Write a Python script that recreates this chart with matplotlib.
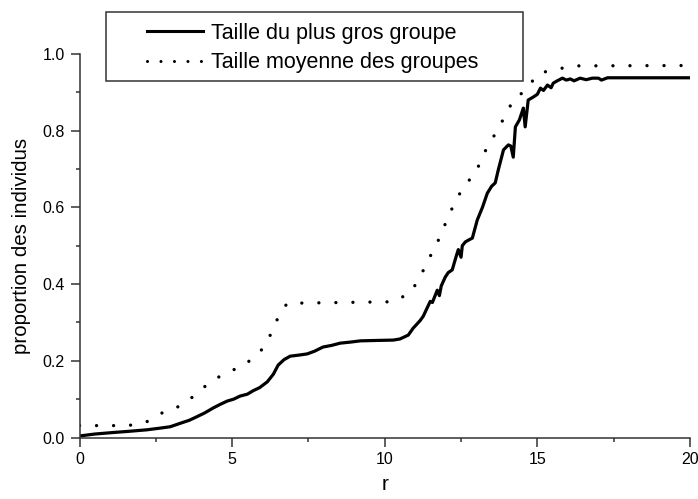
import numpy as np
import matplotlib
matplotlib.use("Agg")
import matplotlib.pyplot as plt
from matplotlib.lines import Line2D
from matplotlib.ticker import MultipleLocator, FormatStrFormatter

plt.rcParams['font.family'] = ['Liberation Sans', 'DejaVu Sans']

# taille du plus gros groupe
r_big = [0, 0.5, 1.1, 1.6, 2.2, 2.6, 2.97, 3.3, 3.6, 3.84, 4.1, 4.38, 4.6, 4.84,
         5.05, 5.26, 5.5, 5.69, 5.9, 6.15, 6.35, 6.51, 6.7, 6.9, 7.2, 7.46, 7.7,
         7.98, 8.25, 8.54, 8.9, 9.2, 9.7, 10.28, 10.5, 10.77, 10.93, 11.16, 11.26,
         11.49, 11.56, 11.72, 11.79, 11.85, 11.98, 12.08, 12.21, 12.35, 12.41,
         12.5, 12.54, 12.64, 12.75, 12.87, 13.03, 13.2, 13.36, 13.5, 13.62, 13.72,
         13.89, 14.05, 14.13, 14.21, 14.28, 14.41, 14.54, 14.6, 14.7, 14.87, 15.0,
         15.1, 15.2, 15.33, 15.45, 15.52, 15.65, 15.82, 15.95, 16.08, 16.2, 16.4,
         16.6, 16.8, 17.0, 17.1, 17.3, 18, 19, 20]
big = [0.004, 0.009, 0.013, 0.016, 0.02, 0.024, 0.028, 0.037, 0.045, 0.054, 0.064,
       0.077, 0.086, 0.095, 0.1, 0.108, 0.113, 0.122, 0.13, 0.145, 0.165, 0.189,
       0.203, 0.212, 0.215, 0.218, 0.225, 0.236, 0.24, 0.246, 0.249, 0.252, 0.253,
       0.254, 0.257, 0.267, 0.285, 0.305, 0.316, 0.355, 0.352, 0.384, 0.37, 0.395,
       0.418, 0.43, 0.437, 0.475, 0.49, 0.47, 0.5, 0.51, 0.515, 0.52, 0.567, 0.6,
       0.637, 0.655, 0.664, 0.698, 0.75, 0.763, 0.76, 0.731, 0.81, 0.828, 0.859,
       0.81, 0.88, 0.888, 0.895, 0.911, 0.905, 0.919, 0.912, 0.924, 0.93, 0.937,
       0.932, 0.935, 0.93, 0.937, 0.933, 0.937, 0.937, 0.932, 0.938, 0.938, 0.938,
       0.938]

# taille moyenne des groupes
r_mean = [0, 1.6, 2.2, 2.77, 3.33, 3.86, 4.3, 4.86, 5.4, 5.92, 6.25, 6.49, 6.8,
          10.3, 10.86, 11.19, 11.44, 11.71, 11.88, 12.1, 12.37, 12.64, 12.97,
          13.19, 13.46, 13.76, 14.0, 14.3, 14.55, 15.04, 15.53, 16.14, 20]
mean = [0.031, 0.031, 0.041, 0.067, 0.083, 0.115, 0.147, 0.17, 0.189, 0.223,
        0.267, 0.31, 0.35, 0.354, 0.379, 0.424, 0.465, 0.506, 0.537, 0.58, 0.624,
        0.661, 0.687, 0.732, 0.771, 0.81, 0.85, 0.889, 0.9, 0.95, 0.958, 0.969,
        0.97]

labels = ["Taille du plus gros groupe", "Taille moyenne des groupes"]

fig = plt.figure(figsize=(6.98, 4.99), dpi=100)
ax = fig.add_axes([79.5 / 698, 1 - 437.5 / 499, 610.5 / 698, 383.5 / 499])

ax.plot(r_big, big, color='black', lw=2.3, solid_joinstyle='round')
ax.plot(r_mean, mean, color='black', lw=2.4, ls=(0, (0.01, 5.1)),
        dash_capstyle='round')

ax.set_xlim(0, 20)
ax.set_ylim(0, 1.0)
ax.xaxis.set_major_locator(MultipleLocator(5))
ax.xaxis.set_minor_locator(MultipleLocator(2.5))
ax.yaxis.set_major_locator(MultipleLocator(0.2))
ax.yaxis.set_minor_locator(MultipleLocator(0.1))
ax.yaxis.set_major_formatter(FormatStrFormatter('%.1f'))

for s in ['top', 'right']:
    ax.spines[s].set_visible(False)
for s in ['left', 'bottom']:
    ax.spines[s].set_linewidth(1.1)
    ax.spines[s].set_color('#333333')
ax.tick_params(which='major', direction='out', length=6.5, width=1.1,
               color='#333333', labelsize=11.5, pad=4)
ax.tick_params(which='minor', direction='out', length=3, width=1.1,
               color='#333333')
ax.set_xlabel("r", fontsize=15, labelpad=6)
ax.set_ylabel("proportion des individus", fontsize=14.8, labelpad=8)

# legend box
fig.add_artist(plt.Rectangle((106 / 698, 1 - 81 / 499), 417 / 698, 69 / 499,
                             transform=fig.transFigure, fill=False, lw=1.1,
                             ec='#333333'))
handles = [Line2D([], [], color='black', lw=2.2),
           Line2D([], [], color='black', lw=2.2, ls=(0, (0.01, 4.4)),
                  dash_capstyle='round')]
fig.legend(handles, labels, loc='upper left',
           bbox_to_anchor=(146.7 / 698, 1 - 23 / 499), frameon=False,
           fontsize=15.5, handlelength=2.6, handletextpad=0.4,
           labelspacing=0.38, borderpad=0, borderaxespad=0)

fig.savefig("out.png", dpi=100)
